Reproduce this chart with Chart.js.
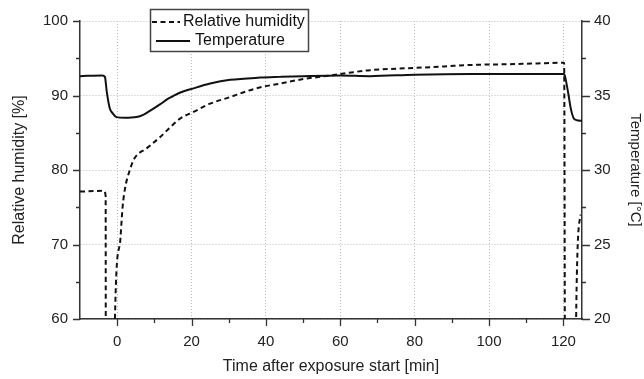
<!DOCTYPE html>
<html>
<head>
<meta charset="utf-8">
<script src="https://cdn.jsdelivr.net/npm/chart.js@4.4.0/dist/chart.umd.min.js"></script>
<style>
  body { margin: 0; background: #fff; }
</style>
</head>
<body>
<canvas id="chart" width="644" height="379"></canvas>
<script>
// values
const rhTime  = [-10, -3.6, -3.1, -3.05, -0.8, -0.6, 0.7, 1.45, 2.1, 3.4, 4.7, 7.9, 11.5, 14, 16.9, 20.5, 25, 30.4, 35, 38.5, 43.8, 50, 57.5, 63, 68, 75, 80, 88, 95, 105, 113, 120.2, 120.5, 123.3, 123.4, 124.6];
const rhValue = [77.1, 77.2, 76.5, 40, 40, 60, 70, 75, 77.5, 80, 81.6, 82.9, 84.4, 85.6, 86.9, 87.8, 88.9, 89.8, 90.6, 91.1, 91.6, 92.2, 92.7, 93.1, 93.4, 93.6, 93.7, 93.9, 94.1, 94.2, 94.3, 94.4, 40, 40, 59.5, 74];

const tempTime  = [-10, -4, -3.3, -2.8, -2.0, -1.2, -0.2, 2, 5.2, 7, 9, 11.5, 13.5, 15, 17, 20.5, 25, 30.4, 38.5, 43.8, 50, 60, 68, 80, 95, 110, 120.2, 120.6, 121.3, 122.0, 122.7, 123.5, 125];
const tempValue = [36.3, 36.35, 36.25, 35.25, 34.15, 33.8, 33.55, 33.5, 33.55, 33.7, 34.0, 34.4, 34.75, 34.95, 35.2, 35.48, 35.8, 36.05, 36.2, 36.25, 36.3, 36.35, 36.3, 36.4, 36.45, 36.45, 36.45, 36.1, 35.15, 34.1, 33.5, 33.35, 33.3];

const xTickLabels = [0, 20, 40, 60, 80, 100, 120];
const rhTickLabels = [60, 70, 80, 90, 100];
const tempTickLabels = [20, 25, 30, 35, 40];

const FONT = "'Liberation Sans', Arial, sans-serif";
const AXIS = '#333';
const GRID = '#bdbdbd';

const toPoints = (xs, ys) => xs.map((x, i) => ({ x: x, y: ys[i] }));

// outward tick marks, long on labelled ticks, short in between
const tickMarks = {
  id: 'tickMarks',
  afterDraw(chart) {
    const ctx = chart.ctx;
    const s = chart.scales;
    ctx.save();
    ctx.strokeStyle = AXIS;
    ctx.lineWidth = 1.3;
    ctx.beginPath();
    s.x.ticks.forEach(t => {
      if (t.value <= s.x.min) return;
      const len = xTickLabels.includes(t.value) ? 7 : 4;
      const px = Math.round(s.x.getPixelForValue(t.value)) + 0.5;
      ctx.moveTo(px, s.x.top);
      ctx.lineTo(px, s.x.top + len);
    });
    s.y.ticks.forEach(t => {
      const len = rhTickLabels.includes(t.value) ? 7 : 4;
      const py = Math.round(s.y.getPixelForValue(t.value)) + 0.5;
      ctx.moveTo(s.y.right, py);
      ctx.lineTo(s.y.right - len, py);
    });
    s.y2.ticks.forEach(t => {
      const len = tempTickLabels.includes(t.value) ? 8 : 4;
      const py = Math.round(s.y2.getPixelForValue(t.value)) + 0.5;
      ctx.moveTo(s.y2.left, py);
      ctx.lineTo(s.y2.left + len, py);
    });
    ctx.stroke();
    ctx.restore();
  }
};

// boxed legend in the upper left of the plot
const boxLegend = {
  id: 'boxLegend',
  afterDraw(chart) {
    const ctx = chart.ctx;
    const ds = chart.data.datasets;
    ctx.save();
    ctx.fillStyle = '#fff';
    ctx.fillRect(150, 9, 159, 43);
    ctx.strokeStyle = '#444';
    ctx.lineWidth = 1.5;
    ctx.strokeRect(150.5, 9.5, 158, 42);

    const rows = [
      { y: 22, x0: 152, x1: 180, tx: 183 },
      { y: 41, x0: 156, x1: 190, tx: 195 }
    ];
    ds.forEach((d, i) => {
      const r = rows[i];
      ctx.strokeStyle = d.borderColor;
      ctx.lineWidth = d.borderWidth;
      ctx.setLineDash(d.borderDash || []);
      ctx.beginPath();
      ctx.moveTo(r.x0, r.y);
      ctx.lineTo(r.x1, r.y);
      ctx.stroke();
      ctx.setLineDash([]);
      ctx.fillStyle = '#111';
      ctx.font = '16px ' + FONT;
      ctx.textBaseline = 'middle';
      ctx.fillText(d.label, r.tx, r.y);
    });
    ctx.restore();
  }
};

const gridColor = (labels) => (c) => (c.tick && labels.includes(c.tick.value)) ? GRID : 'rgba(0,0,0,0)';

new Chart(document.getElementById('chart'), {
  type: 'line',
  data: {
    datasets: [
      {
        label: 'Relative humidity',
        data: toPoints(rhTime, rhValue),
        yAxisID: 'y',
        borderColor: '#111',
        borderWidth: 2,
        borderDash: [5, 3.5],
        pointRadius: 0,
        cubicInterpolationMode: 'monotone',
        clip: 0
      },
      {
        label: 'Temperature',
        data: toPoints(tempTime, tempValue),
        yAxisID: 'y2',
        borderColor: '#111',
        borderWidth: 2,
        pointRadius: 0,
        cubicInterpolationMode: 'monotone',
        clip: 0
      }
    ]
  },
  options: {
    responsive: false,
    animation: false,
    layout: { padding: { top: 21, left: 0, right: 0, bottom: 0 } },
    plugins: {
      legend: { display: false },
      tooltip: { enabled: false }
    },
    scales: {
      x: {
        type: 'linear',
        min: -10,
        max: 125,
        afterFit: s => { s.height = 60; },
        // ticks every 10 min, 125 end is not a tick
        afterBuildTicks: s => {
          const t = [];
          for (let v = -10; v <= 120; v += 10) t.push({ value: v });
          s.ticks = t;
        },
        ticks: {
          autoSkip: false,
          maxRotation: 0,
          padding: 14,
          color: '#222',
          font: { family: FONT, size: 15 },
          callback: v => xTickLabels.includes(v) ? String(v) : ''
        },
        grid: { drawTicks: false, color: gridColor(xTickLabels), lineWidth: 1 },
        border: { color: AXIS, width: 1.5, dash: [1, 2] },
        title: {
          display: true,
          text: 'Time after exposure start [min]',
          color: '#222',
          font: { family: FONT, size: 16 },
          padding: { top: 0, bottom: 3 }
        }
      },
      y: {
        position: 'left',
        min: 60,
        max: 100,
        afterFit: s => { s.width = 80; },
        ticks: {
          stepSize: 5,
          autoSkip: false,
          padding: 12,
          color: '#222',
          font: { family: FONT, size: 15 },
          callback: v => rhTickLabels.includes(v) ? String(v) : ''
        },
        grid: { drawTicks: false, color: gridColor(rhTickLabels), lineWidth: 1 },
        border: { color: AXIS, width: 1.5, dash: [1, 2] },
        title: {
          display: true,
          text: 'Relative humidity [%]',
          color: '#222',
          font: { family: FONT, size: 16 },
          padding: { top: 10, bottom: 0 }
        }
      },
      y2: {
        position: 'right',
        min: 20,
        max: 40,
        afterFit: s => { s.width = 62; },
        ticks: {
          stepSize: 2.5,
          autoSkip: false,
          padding: 12,
          color: '#222',
          font: { family: FONT, size: 15 },
          callback: v => tempTickLabels.includes(v) ? String(v) : ''
        },
        grid: { drawTicks: false, drawOnChartArea: false },
        border: { color: AXIS, width: 1.5 },
        title: {
          display: true,
          text: 'Temperature [°C]',
          color: '#222',
          font: { family: FONT, size: 15, lineHeight: 1.2 },
          padding: { top: 0, bottom: 0 }
        }
      }
    }
  },
  plugins: [tickMarks, boxLegend]
});
</script>
</body>
</html>
